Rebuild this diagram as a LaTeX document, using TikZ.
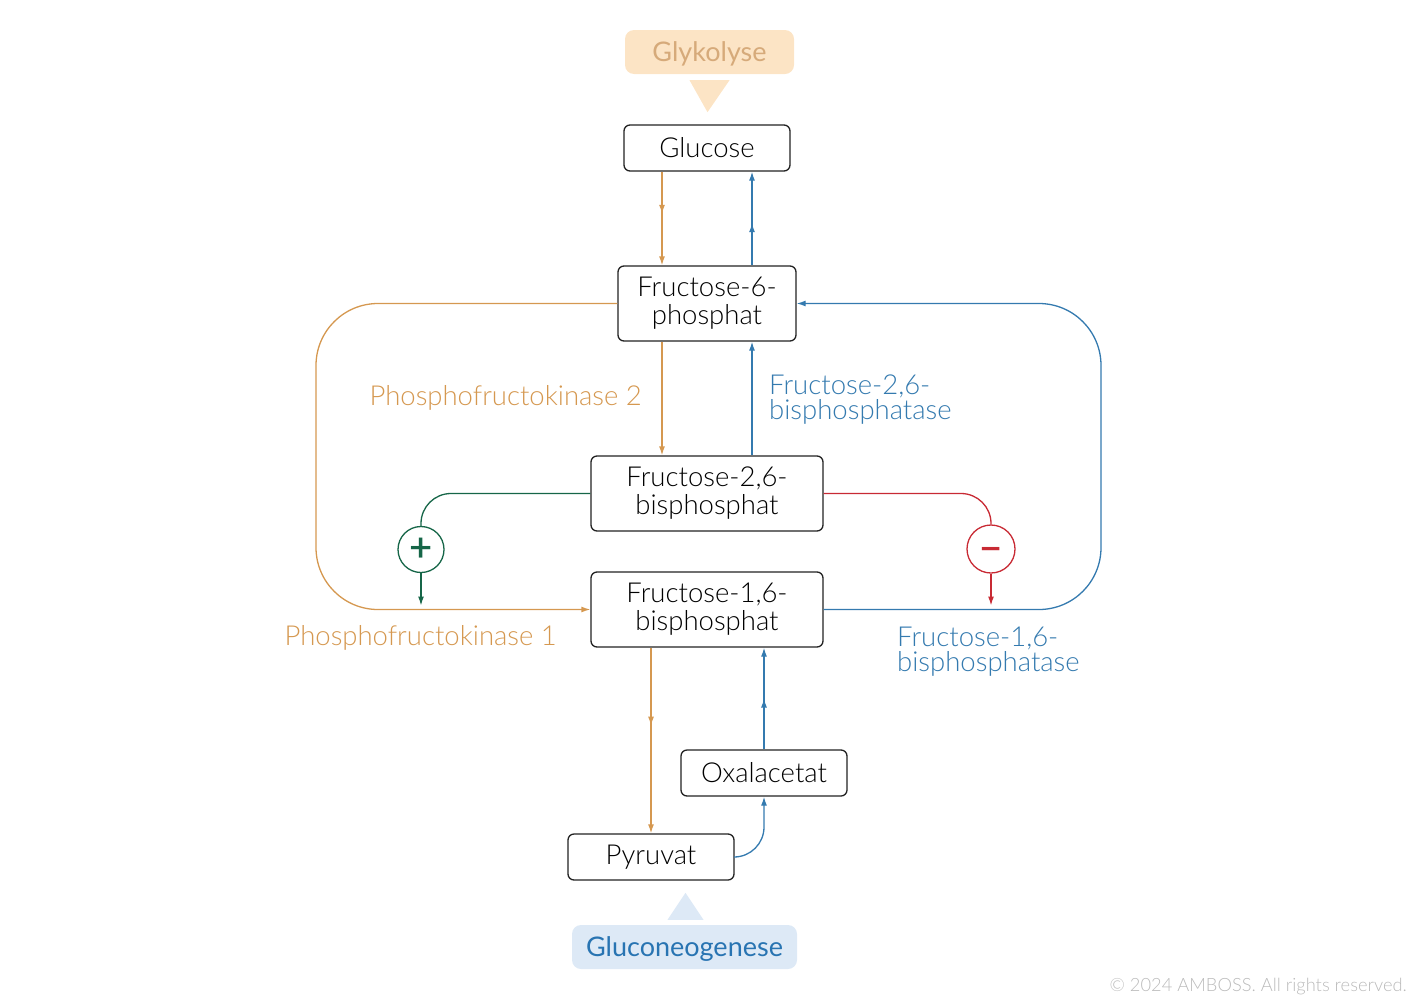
\documentclass[tikz,border=0pt]{standalone}
\usepackage{fontspec}
\setmainfont{Lato Light}
\newfontfamily\pathwayfont{Lato}
\usetikzlibrary{arrows.meta,decorations.markings}
\definecolor{kinase}{RGB}{213,152,80}
\definecolor{phosphatase}{RGB}{52,122,175}
\definecolor{activation}{RGB}{22,102,72}
\definecolor{inhibition}{RGB}{200,42,52}
\definecolor{boxline}{RGB}{34,34,34}
\definecolor{glykobg}{RGB}{252,228,197}
\definecolor{glykotext}{RGB}{214,170,122}
\definecolor{gluconeobg}{RGB}{221,233,246}
\definecolor{gluconeotext}{RGB}{40,116,178}
\tikzstyle{metabolite}=[draw=boxline, rounded corners=6pt, line width=1.3pt, minimum width=166pt, minimum height=46pt, inner sep=0pt, align=center, font=\fontsize{27.5}{28}\selectfont]
\tikzstyle{pathway}=[rounded corners=9pt, minimum height=44pt, inner sep=0pt, text height=19pt, text depth=0pt, font=\pathwayfont\fontsize{27}{28}\selectfont]
\tikzstyle{enzyme}=[inner sep=0pt, font=\fontsize{27.5}{25}\selectfont]
\tikzstyle{flow}=[line width=1.3pt, -{Latex[length=9pt,width=6pt]}]
\tikzstyle{effector}=[circle, line width=1.3pt, inner sep=0pt, font=\fontsize{40}{40}\selectfont\bfseries]
\tikzset{midarrow/.style={postaction={decorate}, decoration={markings, mark=at position #1 with {\arrow{Latex[length=9pt,width=6pt]}}}}}

\begin{document}
\begin{tikzpicture}[x=1pt,y=-1pt]
  \useasboundingbox (0,0) rectangle (1413,999);
  %% pathways
  \node[pathway, fill=glykobg, text=glykotext, minimum width=169pt] (glyk) at (709.5,52) {Glykolyse};
  \fill[glykobg] ([xshift=-20pt,yshift=-6pt]glyk.south) -- ([xshift=20pt,yshift=-6pt]glyk.south) -- ([xshift=-2pt,yshift=-38pt]glyk.south) -- cycle;
  \node[pathway, fill=gluconeobg, text=gluconeotext, minimum width=225pt] (gneo) at (684.5,947) {Gluconeogenese};
  \fill[gluconeobg] ([xshift=-17pt,yshift=5pt]gneo.north) -- ([xshift=19pt,yshift=5pt]gneo.north) -- ([xshift=1pt,yshift=32pt]gneo.north) -- cycle;

  %% metabolites
  \node[metabolite] (glucose) at (707,148) {Glucose};
  \node[metabolite, minimum width=178pt, minimum height=75pt] (f6p) at (707,303.5) {Fructose-6-\\phosphat};
  \node[metabolite, minimum width=232pt, minimum height=75pt] (f26bp) at (707,493.5) {Fructose-2,6-\\bisphosphat};
  \node[metabolite, minimum width=232pt, minimum height=75pt] (f16bp) at (707,609.5) {Fructose-1,6-\\bisphosphat};
  \node[metabolite] (oxal) at (764,773) {Oxalacetat};
  \node[metabolite] (pyruvat) at (651,857) {Pyruvat};

  %% effectors
  \node[effector, draw=activation, text=activation, minimum size=46pt] (plus) at (421,549.5) {+};
  \node[effector, draw=inhibition, text=inhibition, minimum size=48pt, text height=27pt, text depth=0pt] (minus) at (991,549) {−};

  \coordinate (loopL) at (316,456);
  \coordinate (loopR) at (1101,456);

  %% glycolysis
  \draw[flow, kinase, midarrow=0.45] ([xshift=-45pt]glucose.south) -- ([xshift=-45pt]f6p.north);
  \draw[flow, kinase] ([xshift=-45pt]f6p.south) -- ([xshift=-45pt]f26bp.north);
  \draw[flow, kinase, rounded corners=62pt] (f6p.west) -| (loopL) |- (f16bp.west);
  \draw[flow, kinase, midarrow=0.42] (f16bp.south -| pyruvat.north) -- (pyruvat.north);

  %% gluconeogenesis
  \draw[flow, phosphatase, rounded corners=30pt] (pyruvat.east) -| (oxal.south);
  \draw[flow, phosphatase, midarrow=0.5] (oxal.north) -- (oxal.north |- f16bp.south);
  \draw[flow, phosphatase, rounded corners=62pt] (f16bp.east) -| (loopR) |- (f6p.east);
  \draw[flow, phosphatase] ([xshift=45pt]f26bp.north) -- ([xshift=45pt]f6p.south);
  \draw[flow, phosphatase, midarrow=0.45] ([xshift=45pt]f6p.north) -- ([xshift=45pt]glucose.south);

  %% regulation
  \draw[line width=1.3pt, activation, rounded corners=30pt] (f26bp.west) -| (plus.north);
  \draw[flow, activation] (plus.south) -- ([yshift=4pt]plus.south |- f16bp.west);
  \draw[line width=1.3pt, inhibition, rounded corners=30pt] (f26bp.east) -| (minus.north);
  \draw[flow, inhibition] (minus.south) -- ([yshift=4pt]minus.south |- f16bp.east);

  %% enzymes
  \node[enzyme, text=kinase, anchor=east] (pfk2) at (642,398) {Phosphofructokinase 2};
  \node[enzyme, text=phosphatase, anchor=west, align=left] (fbp2) at (769,400) {Fructose-2,6-\\bisphosphatase};
  \node[enzyme, text=kinase, anchor=east] (pfk1) at (557,638) {Phosphofructokinase 1};
  \node[enzyme, text=phosphatase, anchor=west, align=left] (fbp1) at (897,652) {Fructose-1,6-\\bisphosphatase};

  \node[anchor=east, inner sep=0pt, text=black!27, font=\fontsize{18.3}{18}\selectfont] (copy) at (1407,987) {© 2024 AMBOSS. All rights reserved.};
\end{tikzpicture}
\end{document}
